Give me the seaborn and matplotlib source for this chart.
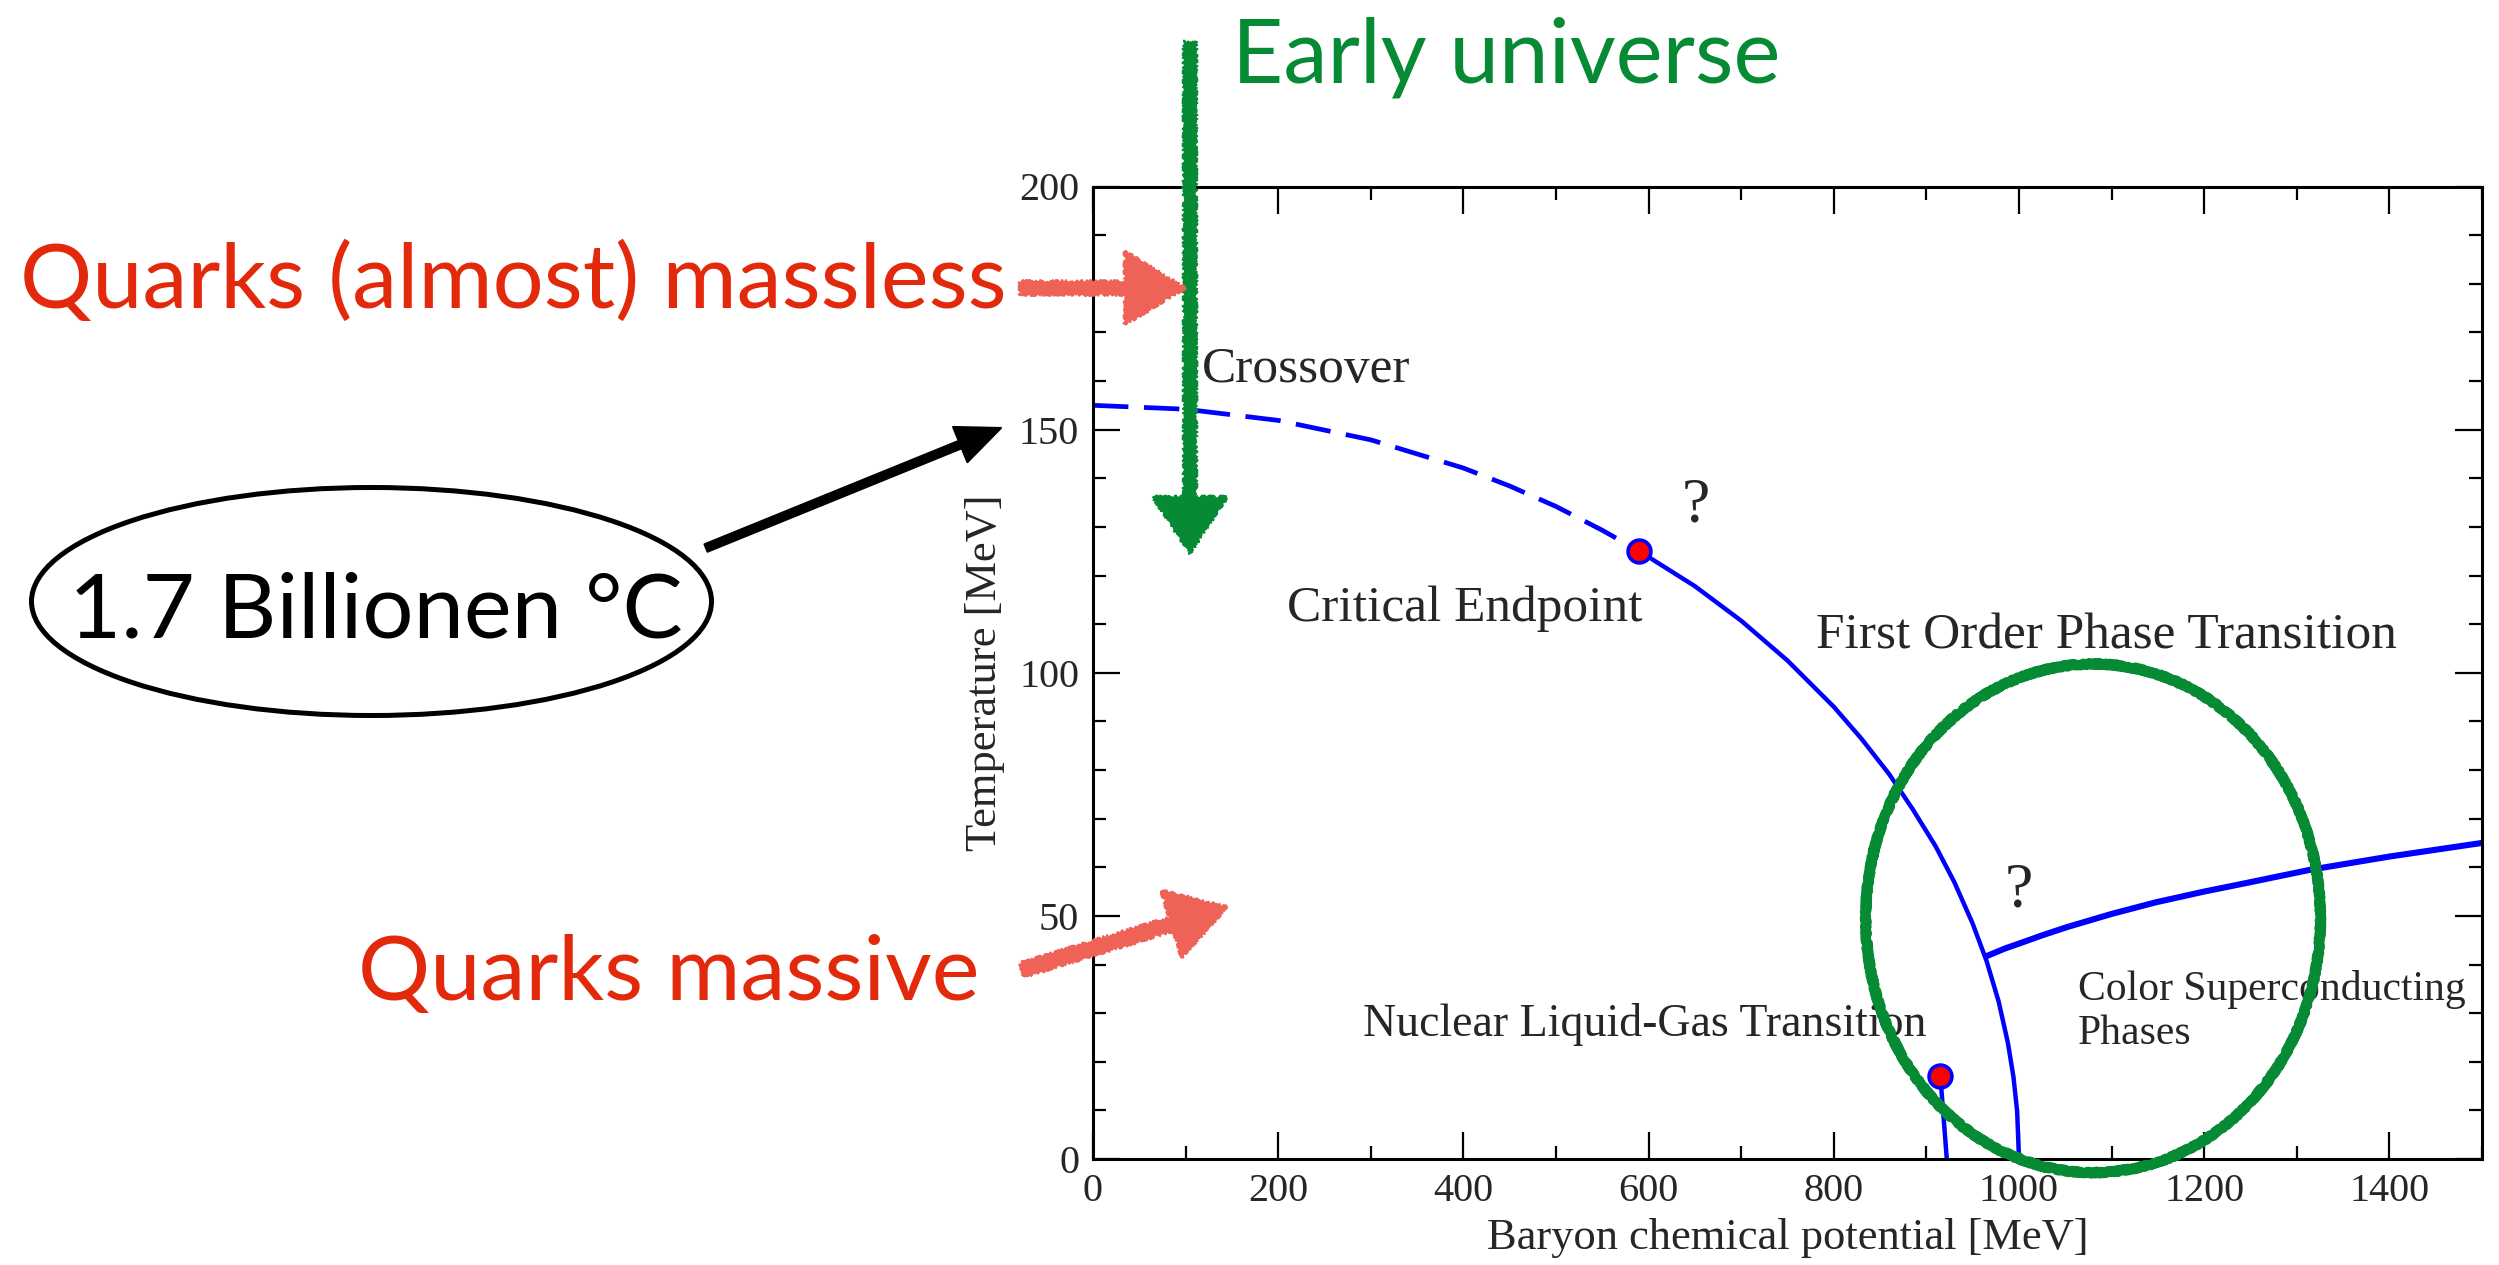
import matplotlib
matplotlib.use("Agg")
import matplotlib.pyplot as plt
import matplotlib.patches as mpatches
import matplotlib.transforms as mtransforms
from matplotlib.ticker import MultipleLocator
import seaborn as sns

W, H = 2499, 1265

# phase boundary (baryon chemical potential [MeV], temperature [MeV])
mu_crossover = [0, 100, 200, 300, 400, 450, 500, 550, 590]
T_crossover = [155, 154.2, 151.9, 147.9, 142.1, 138.4, 134.2, 129.3, 125.0]

mu_first_order = [590, 650, 700, 750, 800, 830, 860, 885, 910, 930, 950, 965,
                  978, 988, 994, 998, 1000]
T_first_order = [125.0, 117.8, 110.7, 102.5, 93.0, 86.4, 79.1, 72.0, 64.3, 57.0,
                  48.4, 40.7, 32.4, 23.9, 16.9, 9.8, 0]

mu_liquid_gas = [915, 918, 920, 922]
T_liquid_gas = [17, 10, 5, 0]

mu_color_sc = [966, 985, 1003, 1025, 1052, 1100, 1148, 1200, 1244, 1315, 1400, 1500]
T_color_sc = [41.8, 43.3, 44.5, 46.0, 47.7, 50.4, 52.8, 55.0, 56.7, 59.5, 62.2, 65.0]

endpoint_mu = [590, 915]
endpoint_T = [125, 17]

# labels inside the diagram: (text, mu, T, size)
region_labels = [
    ("Crossover", 118, 159.7, 37),
    ("Critical Endpoint", 209, 110.6, 37),
    ("First Order Phase Transition", 781, 104.9, 37),
    ("Nuclear Liquid-Gas Transition", 292, 25.2, 33),
    ("Color Superconducting", 1064, 32.7, 30),
    ("Phases", 1064, 23.7, 30),
]
question_marks = [(651, 131.1), (1000, 52.0)]

GREEN = "#078a34"
RED_TEXT = "#e2290c"
SALMON = "#ef6258"

sns.set_theme(style="ticks")
plt.rcParams["font.family"] = ["Liberation Serif", "DejaVu Serif"]
plt.rcParams["axes.facecolor"] = "white"

fig = plt.figure(figsize=(W / 100, H / 100), dpi=100)
ax = fig.add_axes([1093 / W, 1 - 1159 / H, (2482 - 1093) / W, (1159 - 186.5) / H])

sns.lineplot(x=mu_crossover, y=T_crossover, ax=ax, color="blue", lw=3.4,
             linestyle=(0, (7.5, 3.3)), sort=False)
sns.lineplot(x=mu_first_order, y=T_first_order, ax=ax, color="blue", lw=3.2, sort=False)
sns.lineplot(x=mu_liquid_gas, y=T_liquid_gas, ax=ax, color="blue", lw=3.2, sort=False)
sns.lineplot(x=mu_color_sc, y=T_color_sc, ax=ax, color="blue", lw=4.4, sort=False)
sns.scatterplot(x=endpoint_mu, y=endpoint_T, ax=ax, s=270, color="red",
                edgecolor="blue", linewidth=2.6, zorder=5)

for txt, x, y, size in region_labels:
    ax.text(x, y, txt, fontsize=size, va="baseline", ha="left")
for x, y in question_marks:
    ax.text(x, y, "?", fontsize=46, va="baseline", ha="center")

ax.set_xlim(0, 1500)
ax.set_ylim(0, 200)
ax.xaxis.set_major_locator(MultipleLocator(200))
ax.xaxis.set_minor_locator(MultipleLocator(100))
ax.yaxis.set_major_locator(MultipleLocator(50))
ax.yaxis.set_minor_locator(MultipleLocator(10))
ax.tick_params(which="both", direction="in", top=True, right=True,
               width=1.6, color="black", labelsize=29, pad=10)
ax.tick_params(which="major", length=19.5)
ax.tick_params(which="minor", length=9.5)
for sp in ax.spines.values():
    sp.set_linewidth(2.2)
    sp.set_color("black")
ax.set_xlabel("Baryon chemical potential [MeV]", fontsize=32, labelpad=6)
ax.set_ylabel("Temperature [MeV]", fontsize=32, labelpad=10)

# hand drawn circle around the colour superconducting corner
circle = mpatches.Ellipse((1080, 49.5), 491, 104.6, fill=False, ec=GREEN,
                          lw=7, clip_on=False, zorder=6, joinstyle="round",
                          capstyle="round")
circle.set_sketch_params(scale=1.2, length=4, randomness=3)
ax.add_patch(circle)

# overlay annotations in pixel coords (origin top left)
px = mtransforms.Affine2D().scale(1 / W, -1 / H).translate(0, 1) + fig.transFigure

def sketch_arrow(x0, y0, x1, y1, width, head_w, head_l, color, rough=True):
    arr = mpatches.FancyArrow(x0, y0, x1 - x0, y1 - y0, width=width,
                              head_width=head_w, head_length=head_l,
                              length_includes_head=True, transform=px,
                              color=color, lw=1.5, zorder=10, joinstyle="round")
    if rough:
        arr.set_sketch_params(scale=1.5, length=3, randomness=4)
    fig.add_artist(arr)

sketch_arrow(1190, 42, 1190, 553, 12, 74, 56, GREEN)
sketch_arrow(1020, 288, 1185, 288, 13, 73, 60, SALMON)
sketch_arrow(1022, 970, 1227, 907, 14, 70, 58, SALMON)
sketch_arrow(706, 548, 1001, 428, 8, 38, 44, "black", rough=False)

bubble = mpatches.Ellipse((371.5, 601.5), 680, 228, transform=px, fill=False,
                          ec="black", lw=3.6)
fig.add_artist(bubble)

fig.text(1232, 82, "Early universe", transform=px, family="Lato", fontsize=64,
         color=GREEN, va="baseline", ha="left")
fig.text(20, 308, "Quarks (almost) massless", transform=px, family="Lato",
         fontsize=65, color=RED_TEXT, va="baseline", ha="left")
fig.text(979, 1000, "Quarks massive", transform=px, family="Lato",
         fontsize=65, color=RED_TEXT, va="baseline", ha="right")
fig.text(376, 638, "1.7 Billionen °C", transform=px, family="Lato",
         fontsize=65, color="black", va="baseline", ha="center")

fig.savefig("out.png", dpi=100, facecolor="white")
